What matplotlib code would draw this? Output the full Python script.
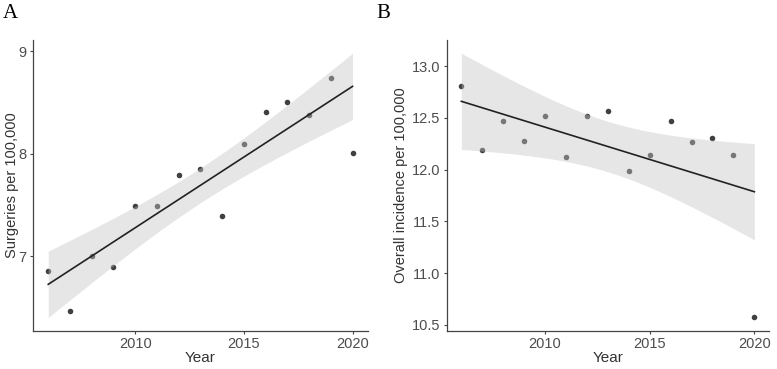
import numpy as np
import matplotlib
matplotlib.use("Agg")
import matplotlib.pyplot as plt

years = [2006, 2007, 2008, 2009, 2010, 2011, 2012, 2013, 2014, 2015, 2016, 2017, 2018, 2019, 2020]
surgeries = [6.857, 6.463, 7.00, 6.89, 7.488, 7.494, 7.793, 7.855, 7.397, 8.094, 8.413, 8.507, 8.381, 8.737, 8.01]
incidence = [12.808, 12.186, 12.471, 12.276, 12.516, 12.125, 12.522, 12.571, 11.984, 12.141, 12.465, 12.263, 12.308, 12.138, 10.571]

xticks = [2010, 2015, 2020]
yticks_a = [7, 8, 9]
yticks_b = [10.5, 11.0, 11.5, 12.0, 12.5, 13.0]
ylabels_b = ["10.5", "11.0", "11.5", "12.0", "12.5", "13.0"]

T975_13 = 2.160368  # t quantile, df = 13


def lm_ci(x, y, xs):
    x = np.asarray(x, float); y = np.asarray(y, float)
    n = len(x)
    b, a = np.polyfit(x, y, 1)
    resid = y - (a + b * x)
    s = np.sqrt(np.sum(resid ** 2) / (n - 2))
    sxx = np.sum((x - x.mean()) ** 2)
    fit = a + b * xs
    se = s * np.sqrt(1 / n + (xs - x.mean()) ** 2 / sxx)
    return fit, fit - T975_13 * se, fit + T975_13 * se


plt.rcParams['font.family'] = ['Liberation Sans', 'DejaVu Sans']
fig = plt.figure(figsize=(7.77, 3.69), dpi=100)
axA = fig.add_axes([0.0425, 0.1038, 0.4308, 0.7878])
axB = fig.add_axes([0.5749, 0.1038, 0.4148, 0.7878])


def panel(ax, y, ylabel, yticks, ylabels, ylpad):
    xs = np.linspace(min(years), max(years), 100)
    fit, lo, hi = lm_ci(years, y, xs)
    ax.scatter(years, y, s=16, color='#404040', zorder=2, linewidths=0)
    ax.fill_between(xs, lo, hi, color='#c4c4c4', alpha=0.42, linewidth=0, zorder=3)
    ax.plot(xs, fit, color='#222222', lw=1.2, zorder=4)
    ymin = min(min(y), lo.min()); ymax = max(max(y), hi.max())
    r = ymax - ymin
    ax.set_ylim(ymin - 0.05 * r, ymax + 0.05 * r)
    xr = max(years) - min(years)
    ax.set_xlim(min(years) - 0.05 * xr, max(years) + 0.05 * xr)
    ax.set_xticks(xticks)
    ax.set_yticks(yticks)
    ax.set_yticklabels(ylabels)
    for sp in ['top', 'right']:
        ax.spines[sp].set_visible(False)
    for sp in ['left', 'bottom']:
        ax.spines[sp].set_color('#444444')
        ax.spines[sp].set_linewidth(0.9)
    ax.tick_params(axis='both', colors='#444444', labelcolor='#4d4d4d', labelsize=10.5,
                   length=2.5, width=0.8, pad=2)
    ax.set_xlabel('Year', fontsize=11, color='#333333', labelpad=0)
    ax.set_ylabel(ylabel, fontsize=10.5, color='#333333', labelpad=ylpad)


panel(axA, surgeries, 'Surgeries per 100,000', yticks_a, [str(v) for v in yticks_a], 0)
panel(axB, incidence, 'Overall incidence per 100,000', yticks_b, ylabels_b, 3)

fig.text(0.003, 0.99, 'A', fontsize=15, family='Liberation Serif', va='top', ha='left')
fig.text(0.484, 0.99, 'B', fontsize=15, family='Liberation Serif', va='top', ha='left')

fig.savefig('out.png', dpi=100)
